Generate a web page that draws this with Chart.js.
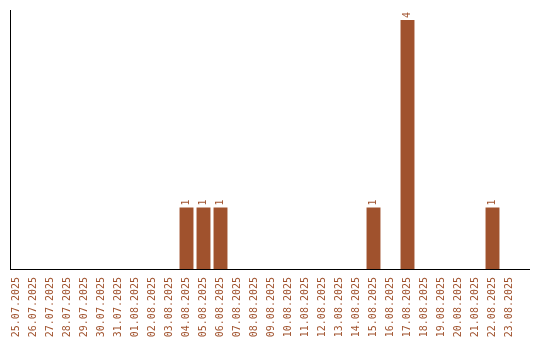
<!DOCTYPE html>
<html>
<head>
<meta charset="utf-8">
<script src="https://cdn.jsdelivr.net/npm/chart.js@4/dist/chart.umd.min.js"></script>
<style>
html,body{margin:0;padding:0;background:#fff;}
#wrap{width:540px;height:340px;position:relative;}
</style>
</head>
<body>
<div id="wrap"><canvas id="c" width="540" height="340"></canvas></div>
<script>
const categories = ["25.07.2025","26.07.2025","27.07.2025","28.07.2025","29.07.2025","30.07.2025","31.07.2025","01.08.2025","02.08.2025","03.08.2025","04.08.2025","05.08.2025","06.08.2025","07.08.2025","08.08.2025","09.08.2025","10.08.2025","11.08.2025","12.08.2025","13.08.2025","14.08.2025","15.08.2025","16.08.2025","17.08.2025","18.08.2025","19.08.2025","20.08.2025","21.08.2025","22.08.2025","23.08.2025"];
const counts = [0,0,0,0,0,0,0,0,0,0,1,1,1,0,0,0,0,0,0,0,0,1,0,4,0,0,0,0,1,0];
const yMax = 4.16;

const BROWN = '#A0522D';

const axisLines = {
  id: 'axisLines',
  afterDraw(chart) {
    const ctx = chart.ctx, a = chart.chartArea;
    ctx.save();
    ctx.strokeStyle = '#000';
    ctx.lineWidth = 1;
    ctx.beginPath();
    ctx.moveTo(a.left + 2.5, a.top);
    ctx.lineTo(a.left + 2.5, a.bottom);
    ctx.moveTo(a.left + 2, a.bottom - 0.5);
    ctx.lineTo(a.right + 12, a.bottom - 0.5);
    ctx.stroke();
    ctx.restore();
  }
};

const valueLabels = {
  id: 'valueLabels',
  afterDatasetsDraw(chart) {
    const ctx = chart.ctx;
    const meta = chart.getDatasetMeta(0);
    ctx.save();
    ctx.fillStyle = BROWN;
    ctx.font = '10px "DejaVu Sans Mono"';
    ctx.textAlign = 'left';
    ctx.textBaseline = 'middle';
    meta.data.forEach((bar, i) => {
      const v = chart.data.datasets[0].data[i];
      if (!v) return;
      ctx.save();
      ctx.translate(bar.x, bar.y - 2);
      ctx.rotate(-Math.PI / 2);
      ctx.fillText(String(v), 0, 0);
      ctx.restore();
    });
    ctx.restore();
  }
};

new Chart(document.getElementById('c'), {
  type: 'bar',
  data: {
    labels: categories,
    datasets: [{
      data: counts,
      backgroundColor: BROWN,
      borderWidth: 0,
      barPercentage: 0.82,
      categoryPercentage: 1.0
    }]
  },
  options: {
    responsive: false,
    animation: false,
    devicePixelRatio: 1,
    layout: { padding: { left: 8, right: 22, top: 10, bottom: 0 } },
    plugins: { legend: { display: false }, tooltip: { enabled: false } },
    scales: {
      x: {
        grid: { display: false, drawTicks: false, tickLength: 0 },
        border: { display: false },
        ticks: {
          color: BROWN,
          font: { family: '"DejaVu Sans Mono"', size: 10 },
          minRotation: 90,
          maxRotation: 90,
          autoSkip: false,
          padding: 7
        },
        afterFit(scale) {
          scale.paddingLeft = 0;
          scale.paddingRight = 0;
          scale.height = 70;
        }
      },
      y: {
        display: false,
        min: 0,
        max: yMax
      }
    }
  },
  plugins: [axisLines, valueLabels]
});
</script>
</body>
</html>
